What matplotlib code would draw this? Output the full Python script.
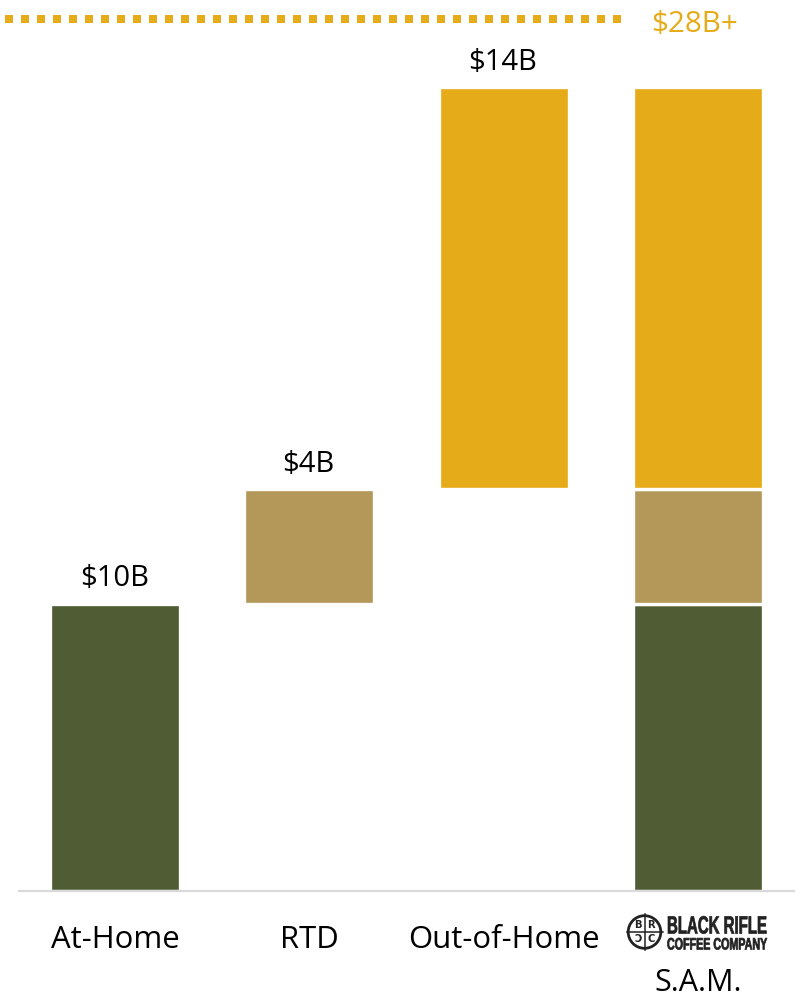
#!/usr/bin/env python3
"""Coffee market waterfall: At-Home + RTD + Out-of-Home = S.A.M."""
import matplotlib
matplotlib.use("Agg")
import matplotlib.pyplot as plt
from matplotlib.patches import Circle
from matplotlib.patheffects import AbstractPathEffect
from matplotlib.transforms import Affine2D, blended_transform_factory

W, H = 802, 994
GREEN, TAN, GOLD, INK = "#505C33", "#B39859", "#E6AB19", "#222222"

CATEGORIES = ["At-Home", "RTD", "Out-of-Home", "S.A.M."]
SEGMENT_VALUES = [10, 4, 14]
SEGMENT_LABELS = ["$10B", "$4B", "$14B"]
SEGMENT_COLORS = [GREEN, TAN, GOLD]
TOTAL_LABEL = "$28B+"

plt.rcParams.update({"font.family": ["Open Sans", "DejaVu Sans"]})


class TallText(AbstractPathEffect):
    """Stretch glyphs upward from their baseline and thicken them, for the logo lettering."""

    def __init__(self, sy, stroke=0.5):
        super().__init__()
        self.sy = sy
        self.stroke = stroke

    def draw_path(self, renderer, gc, tpath, affine, rgbFace=None):
        gc0 = renderer.new_gc()
        gc0.copy_properties(gc)
        gc0.set_linewidth(self.stroke)
        gc0.set_foreground(rgbFace)
        renderer.draw_path(gc0, tpath, Affine2D().scale(1, self.sy) + affine, rgbFace)
        gc0.restore()


def px(x, y):
    return x / W, 1 - y / H


fig = plt.figure(figsize=(W / 100, H / 100), dpi=100, facecolor="white")
ax = fig.add_axes([18 / W, (H - 891) / H, 777 / W, 891 / H])
ax.set_xlim(-0.5, 3.5)
ax.set_ylim(0, 891 / 28.7)
ax.axis("off")

# floating bars on the left, the same pieces stacked in the last column
base = 0
for i, (v, lab, c) in enumerate(zip(SEGMENT_VALUES, SEGMENT_LABELS, SEGMENT_COLORS)):
    ax.bar(i, v, bottom=base, width=0.669, color=c, edgecolor="white", linewidth=2.4)
    ax.bar(3, v, bottom=base, width=0.669, color=c, edgecolor="white", linewidth=2.4)
    ax.annotate(lab, (i, base + v), xytext=(-1 if i else 0, 18), textcoords="offset points",
                ha="center", va="center", fontsize=21, color="black")
    base += v

# baseline
ax.plot([0, 1], [0, 0], color="#D9D9D9", lw=1.6, clip_on=False, solid_capstyle="butt",
        transform=blended_transform_factory(ax.transAxes, ax.transData), zorder=5)

# dotted total marker
tr = fig.transFigure
ax.plot([px(5, 0)[0], px(621, 0)[0]], [px(0, 18.5)[1]] * 2, transform=tr, color=GOLD,
        lw=5.76, linestyle=(0, (1, 1)), dash_capstyle="butt", clip_on=False)
fig.text(*px(694.5, 24), TOTAL_LABEL, color=GOLD, fontsize=21.3, ha="center", va="center")

# category labels
for i, name in enumerate(CATEGORIES[:3]):
    ax.annotate(name, (i, 0), xytext=(0, -35.5), textcoords="offset points",
                ha="center", va="center", fontsize=22.4)
ax.annotate(CATEGORIES[3], (3, 0), xytext=(0, -66.5), textcoords="offset points",
            ha="center", va="center", fontsize=22)

# company logo above the S.A.M. label
logo = fig.add_axes([625.5 / W, 1 - 951 / H, 38 / W, 38 / H])
logo.set_xlim(-19, 19)
logo.set_ylim(-19, 19)
logo.axis("off")
logo.add_patch(Circle((0, 0), 16.3, fill=False, ec=INK, lw=2.0))
logo.plot([-18, 18], [0, 0], color=INK, lw=1.1)
logo.plot([0, 0], [-18, 18], color=INK, lw=1.1)
for x, y, s in [(-6.5, 6.5, "B"), (6.5, 6.5, "R"), (-6.5, -6.5, "Ɔ"), (6.5, -6.5, "C")]:
    logo.text(x, y, s, ha="center", va="center", fontsize=7.2, fontweight="bold",
              color=INK, family=["DejaVu Sans"])
fig.text(*px(667, 933.5), "BLACK RIFLE", family=["Liberation Sans"], fontweight="bold",
         fontsize=10.8, color=INK, ha="left", va="baseline", path_effects=[TallText(1.66)])
fig.text(*px(667, 949.5), "COFFEE COMPANY", family=["Liberation Sans"], fontweight="bold",
         fontsize=7.7, color=INK, ha="left", va="baseline", path_effects=[TallText(1.55)])

fig.savefig("out.png", dpi=100, facecolor="white")
plt.close(fig)
